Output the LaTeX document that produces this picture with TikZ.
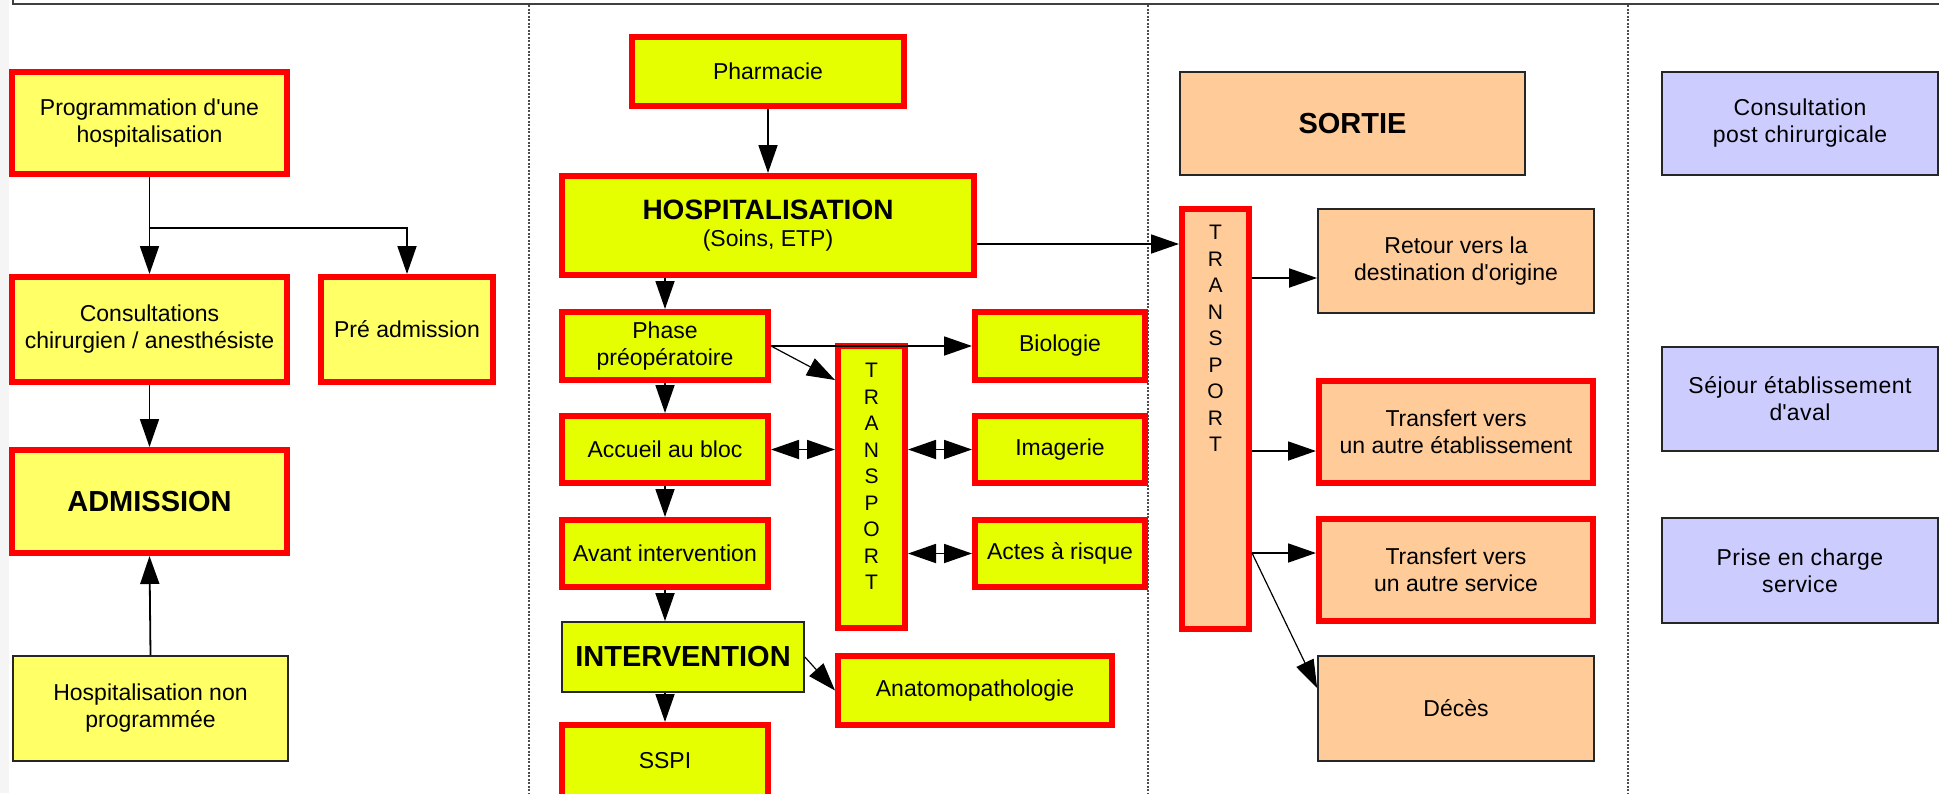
\documentclass[tikz,border=0pt]{standalone}
\usepackage{fontspec}
\setmainfont{Liberation Sans}
\newfontfamily\widefont[LetterSpace=2]{Liberation Sans}
\usetikzlibrary{arrows.meta}
\definecolor{ylw}{HTML}{FFFF66}
\definecolor{lme}{HTML}{E6FF00}
\definecolor{pch}{HTML}{FFCC99}
\definecolor{lav}{HTML}{CCCCFF}
\definecolor{redb}{HTML}{FF0000}
\begin{document}
\begin{tikzpicture}[x=1pt,y=-1pt,
  box/.style={rectangle, inner sep=0pt, align=center, font=\fontsize{23}{27}\selectfont},
  redbox/.style={box, draw=redb, line width=6pt},
  thinbox/.style={box, draw=black!85, line width=1.8pt},
  lavbox/.style={thinbox, fill=lav, font=\widefont\fontsize{23}{27}\selectfont},
  big/.style={font=\fontsize{29}{33}\selectfont\bfseries},
  vert/.style={redbox, font=\fontsize{21}{26.5}\selectfont},
  conn/.style={line width=1.8pt, black},
  arr/.style={conn, -{Triangle[length=28pt,width=19pt]}},
  darr/.style={conn, {Triangle[length=28pt,width=19pt]}-{Triangle[length=28pt,width=19pt]}},
  sepline/.style={line width=1.5pt, black!70, dash pattern=on 2pt off 1.5pt}
]
\useasboundingbox (0,0) rectangle (1939,793);
\fill[black!4] (0,0) rectangle (9,793);
\draw[line width=2pt, black!75] (13,0) -- (13,4) -- (1939,4);
\foreach \xx in {529,1148,1628} \draw[sepline] (\xx,5) -- (\xx,793);

% left column
\node[redbox, fill=ylw, minimum width=275pt, minimum height=102pt] (prog) at (149.5,123) {Programmation d\textquotesingle une\\hospitalisation};
\node[redbox, fill=ylw, minimum width=275pt, minimum height=105pt] (consult) at (149.5,329.5) {Consultations\\chirurgien / anesthésiste};
\node[redbox, fill=ylw, minimum width=172pt, minimum height=105pt] (preadm) at (407,329.5) {Pré admission};
\node[redbox, fill=ylw, big, minimum width=275pt, minimum height=103pt] (admission) at (149.5,501.5) {ADMISSION};
\node[thinbox, fill=ylw, minimum width=275pt, minimum height=105pt] (hnp) at (150.5,708.5) {Hospitalisation non\\programmée};

% middle column
\node[redbox, fill=lme, minimum width=272pt, minimum height=69pt] (pharm) at (768,71.5) {Pharmacie};
\node[redbox, fill=lme, minimum width=412pt, minimum height=99pt] (hosp) at (768,225.5) {{\fontsize{28}{32}\selectfont\bfseries HOSPITALISATION}\\(Soins, ETP)};
\node[redbox, fill=lme, minimum width=206pt, minimum height=68pt] (phase) at (665,346) {Phase\\préopératoire};
\node[redbox, fill=lme, minimum width=206pt, minimum height=67pt] (accueil) at (665,449.5) {Accueil au bloc};
\node[redbox, fill=lme, minimum width=206pt, minimum height=67pt] (avant) at (665,553.5) {Avant intervention};
\node[thinbox, fill=lme, big, minimum width=242pt, minimum height=70pt] (interv) at (683,657) {INTERVENTION};
\node[redbox, fill=lme, minimum width=206pt, minimum height=72pt] (sspi) at (665,761) {SSPI};
\node[redbox, fill=lme, minimum width=170pt, minimum height=68pt] (bio) at (1060,346) {Biologie};
\node[redbox, fill=lme, minimum width=170pt, minimum height=67pt] (imag) at (1060,449.5) {Imagerie};
\node[redbox, fill=lme, minimum width=170pt, minimum height=67pt] (actes) at (1060,553.5) {Actes à risque};
\node[vert, fill=lme, minimum width=67pt, minimum height=282pt, text depth=21pt] (t1) at (871.5,487) {T\\R\\A\\N\\S\\P\\O\\R\\T};
\node[redbox, fill=lme, minimum width=274pt, minimum height=69pt] (anapath) at (975,690.5) {Anatomopathologie};

% right column
\node[thinbox, fill=pch, big, minimum width=345pt, minimum height=103pt] (sortie) at (1352.5,123.5) {SORTIE};
\node[vert, fill=pch, minimum width=67pt, minimum height=420pt, text depth=161pt] (t2) at (1215.5,419) {T\\R\\A\\N\\S\\P\\O\\R\\T};
\node[thinbox, fill=pch, minimum width=276pt, minimum height=104pt] (retour) at (1456,261) {Retour vers la\\destination d\textquotesingle origine};
\node[redbox, fill=pch, minimum width=274pt, minimum height=102pt] (tetab) at (1456,432) {Transfert vers\\un autre établissement};
\node[redbox, fill=pch, minimum width=274pt, minimum height=102pt] (tserv) at (1456,570) {Transfert vers\\un autre service};
\node[thinbox, fill=pch, minimum width=276pt, minimum height=105pt] (deces) at (1456,708.5) {Décès};

% far right column
\node[lavbox, minimum width=276pt, minimum height=103pt] (cpc) at (1800,123.5) {Consultation\\post chirurgicale};
\node[lavbox, minimum width=276pt, minimum height=104pt] (sejour) at (1800,399) {Séjour établissement\\d\textquotesingle aval};
\node[lavbox, minimum width=276pt, minimum height=105pt] (prise) at (1800,570.5) {Prise en charge\\service};

% connectors left
\coordinate (br) at (149.5,228);
\draw[conn] (prog.south) -- (br);
\draw[arr] (br) -- (consult.north);
\draw[arr] (br) -| (preadm.north);
\draw[arr] (consult.south) -- (admission.north);
\draw[arr] (hnp.north) -- (admission.south);

% connectors middle
\draw[arr] (pharm.south) -- (hosp.north);
\draw[arr] (hosp.east |- 0,244) -- (t2.west |- 0,244);
\draw[arr] (phase.north |- hosp.south) -- (phase.north);
\draw[arr] (phase.east) -- (bio.west);
\draw[arr, line width=1.2pt] (phase.east) -- (t1.west |- 0,380);
\draw[arr] (phase.south) -- (accueil.north);
\draw[arr] (accueil.south) -- (avant.north);
\draw[arr] (avant.south) -- (avant.south |- interv.north);
\draw[arr] (sspi.north |- interv.south) -- (sspi.north);
\draw[darr] (accueil.east) -- (accueil.east -| t1.west);
\draw[darr] (imag.west -| t1.east) -- (imag.west);
\draw[darr] (actes.west -| t1.east) -- (actes.west);
\draw[arr, line width=1.2pt] (interv.east) -- (anapath.west);

% connectors right
\draw[arr] (t2.east |- 0,278) -- (retour.west |- 0,278);
\draw[arr] (t2.east |- 0,451) -- (tetab.west |- 0,451);
\draw[arr] (t2.east |- 0,553) -- (tserv.west |- 0,553);
\draw[arr, line width=1.2pt] (t2.east |- 0,553) -- (deces.west |- 0,688);
\end{tikzpicture}
\end{document}
